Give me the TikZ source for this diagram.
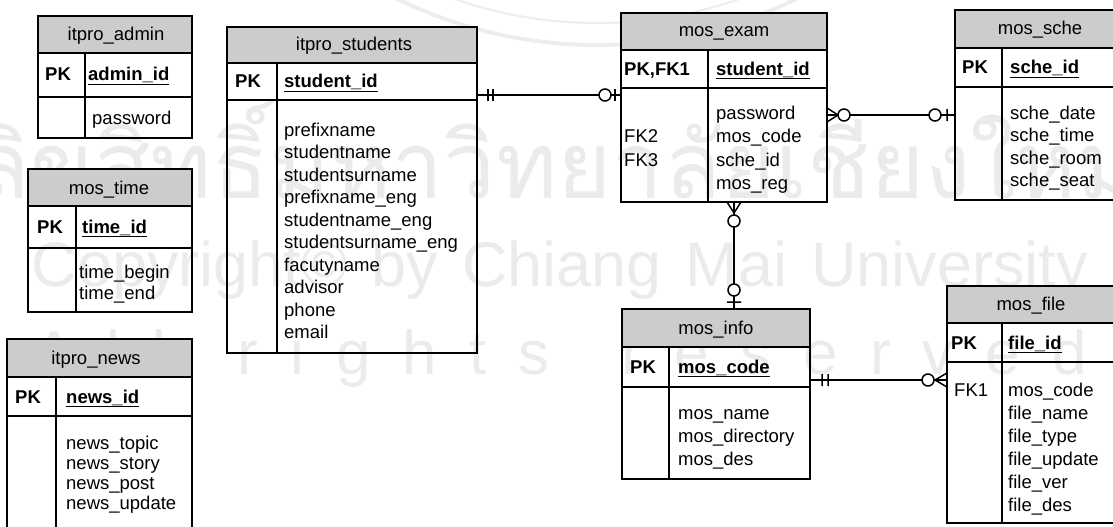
\documentclass[tikz,border=0pt]{standalone}
\usepackage{fontspec}
\setmainfont{Liberation Sans}
\newfontfamily\thaifont[Script=Thai]{Loma}
\newcommand\ertab[8]{%
  \fill[hd] (#2,#3) rectangle (#4,#6);
  \node[tb, anchor=north west, minimum width={#4pt-#2pt}, minimum height={#5pt-#3pt}] (#1) at (#2,#3) {};
  \draw[tb] (#2,#6) -- (#4,#6) (#2,#7) -- (#4,#7) (#8,#6) -- (#8,#5);
}
\newcommand\erflds[5]{%
  \foreach \t [count=\i from 0] in {#5} {\node[fld] (#1\i) at (#2,{#3+\i*#4}) {\t};}%
}
\begin{document}
\begin{tikzpicture}[x=1pt,y=-1pt,
  tb/.style={draw, line width=1.5pt, inner sep=0pt, outer sep=0pt},
  hd/.style={fill=black!20},
  fld/.style={anchor=base west, inner sep=0pt, font=\fontsize{18.5}{22}\selectfont},
  key/.style={fld, font=\fontsize{18.5}{22}\selectfont\bfseries},
  ttl/.style={anchor=base, inner sep=0pt, font=\fontsize{18.5}{22}\selectfont},
  rel/.style={line width=1.5pt},
  ring/.style={rel, fill=white},
  wm/.style={text=black!8, inner sep=0pt}]
\useasboundingbox (0,0) rectangle (1113,527);
\clip (0,0) rectangle (1113,527);
% watermark
\draw[black!7, line width=4pt] (597,-409) circle (454pt);
\draw[black!7, line width=2pt] (597,-409) circle (432pt);
\node[wm, font=\thaifont\fontsize{93}{93}\selectfont] (wmth) at (556,150) {ลิขสิทธิ์มหาวิทยาลัยเชียงใหม่};
\node[wm, font=\fontsize{63}{63}\selectfont] (wmcp) at (560,270) {\spaceskip=24pt Copyright\textcopyright\ by Chiang Mai University};
\node[wm, font=\fontsize{62}{62}\selectfont] (wmar) at (560,358) {\spaceskip=32pt A l l\hspace{40pt} r i g h t s\hspace{40pt} r e s e r v e d};
% itpro_admin
\ertab{admin}{38}{16}{192}{138}{53}{97}{85}
\node[ttl] (admin-t) at (116,41) {itpro\_admin};
\node[key] (admin-pk) at (45,81) {PK};
\node[key] (admin-id) at (88,81) {\underline{admin\_id}};
\node[fld] (admin-f) at (92,124) {password};
% mos_time
\ertab{time}{28}{169}{192}{312}{206}{248}{76}
\node[ttl] (time-t) at (109,194) {mos\_time};
\node[key] (time-pk) at (37,233) {PK};
\node[key] (time-id) at (82,233) {\underline{time\_id}};
\erflds{timef}{79}{278}{21}{time\_begin,time\_end}
% itpro_news
\ertab{news}{7}{339}{192}{540}{377}{416}{56}
\node[ttl] (news-t) at (96,364) {itpro\_news};
\node[key] (news-pk) at (15,403) {PK};
\node[key] (news-id) at (66,403) {\underline{news\_id}};
\erflds{newsf}{66}{449}{20}{news\_topic,news\_story,news\_post,news\_update}
% itpro_students
\ertab{students}{227}{27}{477}{353}{63}{100}{277}
\node[ttl] (students-t) at (354,51) {itpro\_students};
\node[key] (students-pk) at (235,88) {PK};
\node[key] (students-id) at (284,88) {\underline{student\_id}};
\erflds{studentsf}{284}{136}{22.55}{prefixname,studentname,studentsurname,prefixname\_eng,studentname\_eng,studentsurname\_eng,facutyname,advisor,phone,email}
% mos_exam
\ertab{exam}{621}{13}{827}{202}{50}{88}{708}
\node[ttl] (exam-t) at (724,37) {mos\_exam};
\node[key] (exam-pk) at (624,75) {PK,FK1};
\node[key] (exam-id) at (716,75) {\underline{student\_id}};
\erflds{examf}{716}{119}{23.5}{password,mos\_code,sche\_id,mos\_reg}
\node[fld] (exam-fk2) at (624,142.5) {FK2};
\node[fld] (exam-fk3) at (624,166) {FK3};
% mos_sche
\ertab{sche}{955}{10}{1125}{200}{48}{87}{1002}
\node[ttl] (sche-t) at (1040,35) {mos\_sche};
\node[key] (sche-pk) at (962,74) {PK};
\node[key] (sche-id) at (1010,74) {\underline{sche\_id}};
\erflds{schef}{1010}{119}{22.5}{sche\_date,sche\_time,sche\_room,sche\_seat}
% mos_info
\ertab{info}{622}{309}{810}{479}{347}{387}{669}
\node[ttl] (info-t) at (716,334) {mos\_info};
\node[key] (info-pk) at (630,373) {PK};
\node[key] (info-id) at (678,373) {\underline{mos\_code}};
\erflds{infof}{678}{419}{23}{mos\_name,mos\_directory,mos\_des}
% mos_file
\ertab{file}{947}{286}{1125}{523}{323}{362}{1002}
\node[ttl] (file-t) at (1031,310) {mos\_file};
\node[key] (file-pk) at (951,349) {PK};
\node[key] (file-id) at (1008,349) {\underline{file\_id}};
\node[fld] (file-fk1) at (954,396) {FK1};
\erflds{filef}{1008}{396}{23}{mos\_code,file\_name,file\_type,file\_update,file\_ver,file\_des}
% connectors
\coordinate (ya) at (0,95);
\coordinate (yb) at (0,115);
\coordinate (yc) at (0,380);
\coordinate (xa) at (734,0);
% students -> exam
\draw[rel] (students.east |- ya) -- (exam.west |- ya);
\draw[rel] (488,89) -- (488,101) (493,89) -- (493,101) (615,89) -- (615,101);
\draw[ring] (605,95) circle (6pt);
% exam -> sche
\draw[rel] (exam.east |- yb) -- (sche.west |- yb);
\draw[rel] (827,108) -- (838,115) -- (827,122) (947,109) -- (947,121);
\draw[ring] (844,115) circle (6pt);
\draw[ring] (935,115) circle (6pt);
% exam -> info
\draw[rel] (exam.south -| xa) -- (info.north -| xa);
\draw[rel] (727,202) -- (734,213) -- (741,202) (727,302) -- (741,302);
\draw[ring] (734,221) circle (6pt);
\draw[ring] (734,290) circle (6pt);
% info -> file
\draw[rel] (info.east |- yc) -- (file.west |- yc);
\draw[rel] (822,374) -- (822,386) (828,374) -- (828,386) (947,373) -- (935,380) -- (947,387);
\draw[ring] (928,380) circle (6pt);
\end{tikzpicture}
\end{document}
